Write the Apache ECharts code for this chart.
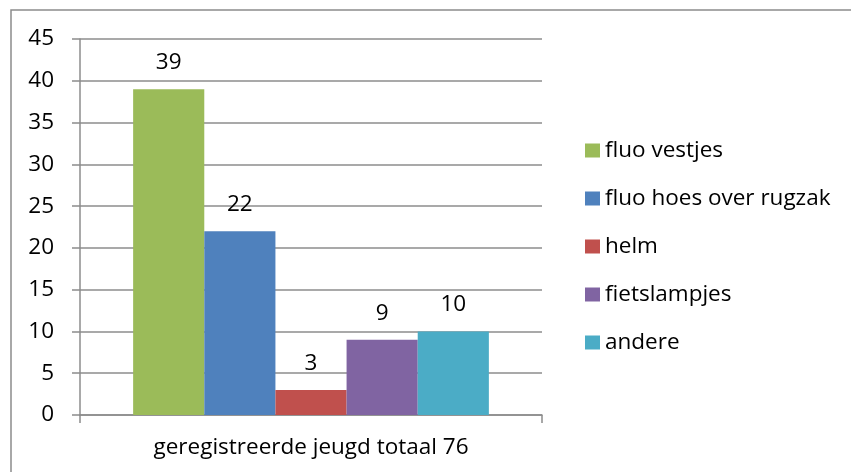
<!DOCTYPE html>
<html><head><meta charset="utf-8">
<script src="https://cdn.jsdelivr.net/npm/echarts@6/dist/echarts.min.js"></script>
<style>html,body{margin:0;padding:0;background:#fff}#c{width:851px;height:472px}</style>
</head><body><div id="c"></div>
<script>
var categories = ['geregistreerde jeugd totaal 76'];
var seriesNames = ['fluo vestjes', 'fluo hoes over rugzak', 'helm', 'fietslampjes', 'andere'];
var seriesValues = [[39], [22], [3], [9], [10]];
var seriesColors = ['#9BBB59', '#4F81BD', '#C0504D', '#8064A2', '#4BACC6'];
var yTicks = [0, 5, 10, 15, 20, 25, 30, 35, 40, 45];

var FONT = 'Open Sans';
var FS = 22.5;
var chart = echarts.init(document.getElementById('c'), null, {renderer: 'canvas'});
var series = seriesNames.map(function (n, i) {
  return {
    name: n, type: 'bar', data: seriesValues[i],
    itemStyle: {color: seriesColors[i]},
    barGap: '0%', barCategoryGap: '23%',
    label: {show: true, position: 'top', distance: 15, color: '#000', fontFamily: FONT, fontSize: FS}
  };
});
chart.setOption({
  animation: false,
  graphic: [{type: 'rect', shape: {x: 11, y: 10, width: 900, height: 500},
    style: {fill: 'none', stroke: '#8c8c8c', lineWidth: 1.5}, silent: true}],
  grid: {left: 80, right: 309, top: 39, bottom: 57, containLabel: false},
  legend: {
    orient: 'vertical', left: 585, top: 139, padding: 0, icon: 'rect',
    itemWidth: 15, itemHeight: 14, itemGap: 25,
    textStyle: {fontFamily: FONT, fontSize: FS, color: '#000', lineHeight: 22},
    data: seriesNames
  },
  xAxis: {
    type: 'category', data: categories,
    axisLine: {lineStyle: {color: '#8c8c8c', width: 1.5}},
    axisTick: {show: true, length: 8, lineStyle: {color: '#8c8c8c', width: 1.5}},
    axisLabel: {margin: 21, color: '#000', fontFamily: FONT, fontSize: FS}
  },
  yAxis: {
    type: 'value', min: yTicks[0], max: yTicks[yTicks.length - 1], interval: 5,
    axisLine: {show: true, lineStyle: {color: '#8c8c8c', width: 1.5}},
    axisTick: {show: true, length: 8, lineStyle: {color: '#8c8c8c', width: 1.5}},
    splitLine: {lineStyle: {color: '#8c8c8c', width: 1.5}},
    axisLabel: {margin: 26, color: '#000', fontFamily: FONT, fontSize: FS}
  },
  series: series
});
</script></body></html>
